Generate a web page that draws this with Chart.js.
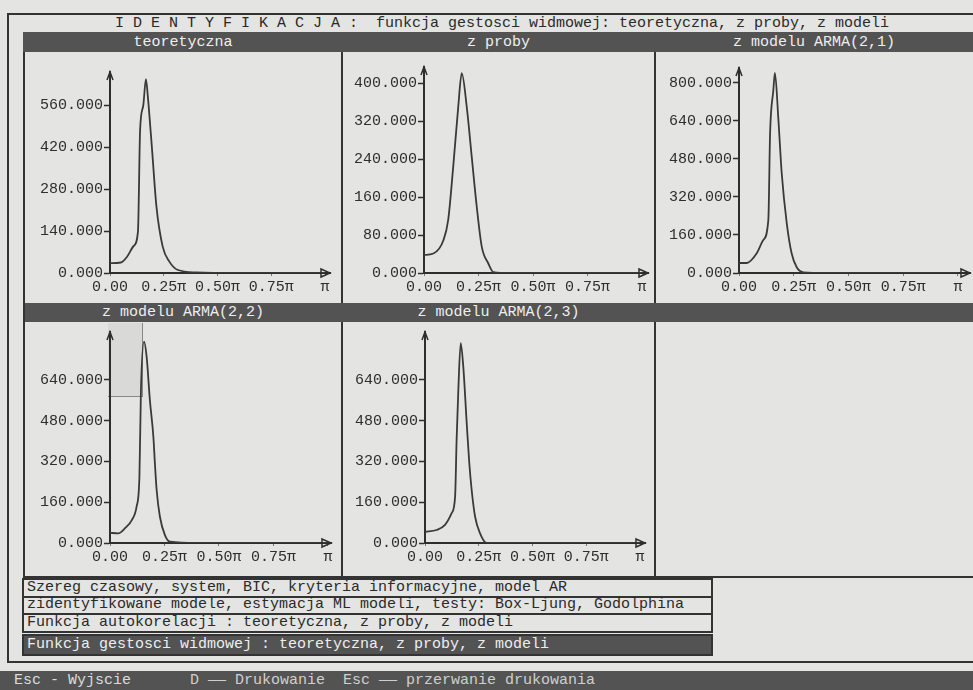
<!DOCTYPE html>
<html>
<head>
<meta charset="utf-8">
<script src="https://cdn.jsdelivr.net/npm/chart.js@4.4.1/dist/chart.umd.min.js"></script>
<style>
  body { margin: 0; width: 973px; height: 690px; overflow: hidden; position: relative;
         background: #e4e4e2; font-family: "Liberation Mono", "DejaVu Sans Mono", monospace;
         font-size: 15px; color: #2a2a2a; }
  .abs { position: absolute; }
  .txt { position: absolute; white-space: pre; line-height: 1; }
  .dark { position: absolute; background: #535353; }
  .lbl { position: absolute; white-space: pre; color: #eeeeee; text-align: center; line-height: 1; }
  .vline { position: absolute; width: 2px; background: #333; }
  .hline { position: absolute; height: 2px; background: #333; }
  .row { position: absolute; left: 22px; width: 684px; border: 2px solid #333; white-space: pre;
         padding-left: 3px; line-height: 16px; height: 16px; }
  canvas { position: absolute; }
</style>
</head>
<body>

<!-- frame -->
<div class="abs" style="left:7px;top:13px;width:980px;height:650px;border:2px solid #333;border-right:none;box-sizing:border-box"></div>
<div class="txt" style="left:115px;top:16px">I D E N T Y F I K A C J A :  funkcja gestosci widmowej: teoretyczna, z proby, z modeli</div>

<!-- header bars -->
<div class="dark" style="left:23px;top:32px;width:950px;height:20px"></div>
<div class="lbl" style="left:24px;top:35px;width:318px">teoretyczna</div>
<div class="lbl" style="left:342px;top:35px;width:313px">z proby</div>
<div class="lbl" style="left:655px;top:35px;width:318px">z modelu ARMA(2,1)</div>

<div class="dark" style="left:23px;top:303px;width:950px;height:19px"></div>
<div class="lbl" style="left:24px;top:305px;width:318px">z modelu ARMA(2,2)</div>
<div class="lbl" style="left:342px;top:305px;width:313px">z modelu ARMA(2,3)</div>

<!-- panel lines -->
<div class="vline" style="left:23px;top:52px;height:526px"></div>
<div class="vline" style="left:341px;top:52px;height:251px"></div>
<div class="vline" style="left:654px;top:52px;height:251px"></div>
<div class="vline" style="left:341px;top:322px;height:256px"></div>
<div class="vline" style="left:654px;top:322px;height:256px"></div>
<div class="hline" style="left:23px;top:576px;width:950px"></div>

<!-- screen leftover box in ARMA(2,2) panel -->
<div class="abs" style="left:108px;top:323px;width:34px;height:73px;background:#d9d9d7;border-right:1px solid #888;border-bottom:1px solid #888"></div>

<canvas id="c1" width="318" height="249" style="left:24px;top:53px"></canvas>
<canvas id="c2" width="313" height="249" style="left:342px;top:53px"></canvas>
<canvas id="c3" width="318" height="249" style="left:655px;top:53px"></canvas>
<canvas id="c4" width="318" height="255" style="left:24px;top:322px"></canvas>
<canvas id="c5" width="313" height="255" style="left:342px;top:322px"></canvas>

<!-- menu -->
<div class="row" style="top:578px">Szereg czasowy, system, BIC, kryteria informacyjne, model AR</div>
<div class="row" style="top:597px;border-top:none">zidentyfikowane modele, estymacja ML modeli, testy: Box-Ljung, Godolphina</div>
<div class="row" style="top:615px;border-top:none">Funkcja autokorelacji : teoretyczna, z proby, z modeli</div>
<div class="row" style="top:634px;background:#535353;color:#eeeeee;height:18px;line-height:18px">Funkcja gestosci widmowej : teoretyczna, z proby, z modeli</div>

<!-- status bar -->
<div class="dark" style="left:0;top:671px;width:973px;height:19px"></div>
<div class="txt" style="left:14px;top:673px;color:#dcdcdc">Esc - Wyjscie</div>
<div class="txt" style="left:190px;top:673px;color:#cfcfcf">D —— Drukowanie  Esc —— przerwanie drukowania</div>

<script>
// frequency in units of pi, density values
const freqTeor = [0, 0.05, 0.08, 0.11, 0.13, 0.14, 0.155, 0.167, 0.176, 0.187, 0.196, 0.216, 0.245, 0.276, 0.316, 0.4, 0.6, 0.8, 1];
const densTeor = [33, 35, 55, 90, 138, 477, 560, 646, 588, 491, 407, 221, 88, 38, 10, 2, 0, 0, 0];

const freqProby = [0, 0.043, 0.089, 0.111, 0.134, 0.157, 0.173, 0.196, 0.219, 0.242, 0.265, 0.295, 0.318, 0.4, 0.6, 0.8, 1];
const densProby = [38, 41, 69, 112, 224, 350, 421, 350, 244, 139, 55, 20, 2, 0, 0, 0, 0];

const freqArma21 = [0, 0.035, 0.081, 0.111, 0.134, 0.142, 0.157, 0.164, 0.18, 0.195, 0.218, 0.24, 0.263, 0.294, 0.4, 0.6, 0.8, 1];
const densArma21 = [42, 42, 83, 139, 223, 589, 771, 842, 644, 421, 210, 84, 25, 3, 0, 0, 0, 0];

const freqArma22 = [0, 0.038, 0.069, 0.1, 0.122, 0.135, 0.142, 0.156, 0.168, 0.183, 0.199, 0.206, 0.214, 0.229, 0.252, 0.275, 0.4, 0.6, 0.8, 1];
const densArma22 = [40, 38, 58, 90, 143, 260, 600, 790, 731, 561, 417, 313, 208, 103, 31, 5, 0, 0, 0, 0];

const freqArma23 = [0, 0.054, 0.093, 0.124, 0.14, 0.147, 0.155, 0.166, 0.178, 0.194, 0.206, 0.217, 0.233, 0.256, 0.287, 0.4, 0.6, 0.8, 1];
const densArma23 = [44, 51, 71, 117, 182, 404, 601, 784, 692, 470, 313, 208, 103, 38, 0, 0, 0, 0, 0];

const xTickLabels = { 0: '0.00', 0.25: '0.25π', 0.5: '0.50π', 0.75: '0.75π', 1: 'π' };

const ink = '#2e2e2e';
const monoFont = { family: "'Liberation Mono', 'DejaVu Sans Mono', monospace", size: 15 };

const axisArrows = {
  id: 'axisArrows',
  afterDraw(chart) {
    const { ctx, chartArea: a } = chart;
    ctx.save();
    ctx.strokeStyle = ink;
    ctx.lineWidth = 1.5;
    ctx.beginPath();
    ctx.moveTo(a.left - 3, a.top + 8);
    ctx.lineTo(a.left, a.top);
    ctx.lineTo(a.left + 3, a.top + 8);
    ctx.stroke();
    ctx.beginPath();
    ctx.moveTo(a.right - 9, a.bottom - 4);
    ctx.lineTo(a.right, a.bottom);
    ctx.lineTo(a.right - 9, a.bottom + 4);
    ctx.closePath();
    ctx.stroke();
    ctx.restore();
  }
};

// the program labels the y axis only up to the curve's peak
function drawPanel(id, freq, dens, yMax, yStep, yTop, xMax, yWidth, xHeight, padTop, padRight) {
  new Chart(document.getElementById(id), {
    type: 'line',
    data: {
      datasets: [{
        data: freq.map((f, i) => ({ x: f, y: dens[i] })),
        borderColor: '#3a3a3a',
        borderWidth: 1.8,
        pointRadius: 0,
        cubicInterpolationMode: 'monotone',
        fill: false
      }]
    },
    options: {
      responsive: false,
      devicePixelRatio: 1,
      animation: false,
      layout: { padding: { top: padTop, right: padRight, left: 0, bottom: 0 } },
      plugins: { legend: { display: false }, tooltip: { enabled: false } },
      scales: {
        x: {
          type: 'linear', min: 0, max: xMax,
          afterFit: s => { s.height = xHeight; },
          border: { color: ink, width: 2 },
          grid: { drawOnChartArea: false, tickLength: 3, color: '#777' },
          ticks: {
            stepSize: 0.25, includeBounds: false, autoSkip: false, maxRotation: 0,
            padding: 2, color: ink, font: monoFont,
            callback: v => xTickLabels[v] ?? ''
          }
        },
        y: {
          min: 0, max: yMax,
          afterFit: s => { s.width = yWidth; },
          afterBuildTicks: s => { s.ticks = s.ticks.filter(t => t.value <= yTop); },
          border: { color: ink, width: 2 },
          grid: { drawOnChartArea: false, tickLength: 6, tickWidth: 1.5, color: ink },
          ticks: {
            stepSize: yStep, includeBounds: false, padding: 1, color: ink, font: monoFont,
            callback: v => v.toFixed(3)
          }
        }
      }
    },
    plugins: [axisArrows]
  });
}

drawPanel('c1', freqTeor, densTeor, 670, 140, 560, 1.023, 86, 29, 19, 12);
drawPanel('c2', freqProby, densProby, 434, 80, 400, 1.027, 82, 29, 14, 7);
drawPanel('c3', freqArma21, densArma21, 863, 160, 800, 1.055, 84, 29, 15, 3);
drawPanel('c4', freqArma22, densArma22, 828, 160, 640, 1.014, 86, 34, 10, 11);
drawPanel('c5', freqArma23, densArma23, 828, 160, 640, 1.023, 83, 34, 10, 10);
</script>
</body>
</html>
